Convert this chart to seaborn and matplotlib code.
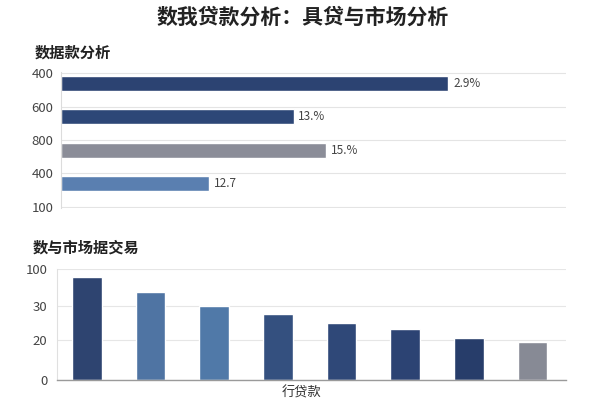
import matplotlib
matplotlib.use("Agg")
import matplotlib.pyplot as plt
import pandas as pd
import seaborn as sns

# ---------------- data ----------------
main_title = "数我贷款分析：具贷与市场分析"

top_title = "数据款分析"
top_cats = ["贷款一", "贷款二", "贷款三", "贷款四"]
top_values = [76.7, 46.1, 52.5, 29.4]
top_labels = ["2.9%", "13.%", "15.%", "12.7"]
top_ticklabels = ["400", "600", "800", "400", "100"]
top_colors = ["#2c4372", "#2d4777", "#8b8d98", "#5a7fb0"]

bottom_title = "数与市场据交易"
bottom_cats = ["类1", "类2", "类3", "类4", "类5", "类6", "类7", "类8"]
bottom_values = [92.8, 79.8, 66.9, 59.5, 51.9, 45.9, 38.1, 34.8]
bottom_ticks = [0, 36, 67, 100]
bottom_ticklabels = ["0", "20", "30", "100"]
bottom_xlabel = "行贷款"
bottom_colors = ["#2e4470", "#4f74a3", "#5079a8", "#34507f",
                 "#2f4878", "#2c4373", "#273d6a", "#878a95"]

# ---------------- style ----------------
sns.set_theme(style="whitegrid")
plt.rcParams["font.family"] = ["Noto Sans CJK SC", "DejaVu Sans"]

fig = plt.figure(figsize=(6, 4), dpi=100, facecolor="white")

# ---------------- top chart ----------------
ax1 = fig.add_axes([60.5 / 600, 1 - 208 / 400, (566 - 60.5) / 600, (208 - 72) / 400])
df1 = pd.DataFrame({"cat": top_cats, "value": top_values})
sns.barplot(data=df1, x="value", y="cat", hue="cat",
            palette=dict(zip(top_cats, top_colors)), orient="h",
            width=0.45, saturation=1, legend=False, ax=ax1)
ax1.set_xlim(0, 100)
ax1.set_ylim(3.73, -0.33)
ax1.set_yticks([i - 0.3 for i in range(len(top_ticklabels))])
ax1.set_yticklabels(top_ticklabels)
ax1.set_xticks([])
ax1.set_xlabel("")
ax1.set_ylabel("")
ax1.grid(axis="x", visible=False)
ax1.grid(axis="y", color="#e4e4e4", linewidth=0.8)
ax1.tick_params(axis="y", length=0, pad=5, labelsize=9.5, labelcolor="#444444")
for side in ["top", "right", "bottom"]:
    ax1.spines[side].set_visible(False)
ax1.spines["left"].set_color("#dcdcdc")
ax1.spines["left"].set_linewidth(0.8)
for cont, lab in zip(ax1.containers, top_labels):
    ax1.bar_label(cont, labels=[lab], padding=3.5, fontsize=8.5, color="#444444")

# ---------------- bottom chart ----------------
ax2 = fig.add_axes([56.6 / 600, 1 - 380.3 / 400, (566 - 56.6) / 600, (380.3 - 269.3) / 400])
df2 = pd.DataFrame({"cat": bottom_cats, "value": bottom_values})
sns.barplot(data=df2, x="cat", y="value", hue="cat",
            palette=dict(zip(bottom_cats, bottom_colors)),
            width=0.463, saturation=1, legend=False, ax=ax2)
ax2.set_xlim(-0.476, 7.526)
ax2.set_ylim(0, 100)
ax2.set_yticks(bottom_ticks)
ax2.set_yticklabels(bottom_ticklabels)
ax2.set_xticks([])
ax2.set_ylabel("")
ax2.set_xlabel(bottom_xlabel, fontsize=9.5, color="#333333", va="center")
ax2.xaxis.set_label_coords((302 - 56.6) / (566 - 56.6), (380.3 - 392.5) / 111)
ax2.grid(axis="x", visible=False)
ax2.grid(axis="y", color="#e6e6e6", linewidth=0.8)
ax2.tick_params(axis="y", length=0, pad=6.5, labelsize=9.5, labelcolor="#444444")
for side in ["top", "right"]:
    ax2.spines[side].set_visible(False)
ax2.spines["left"].set_color("#e0e0e0")
ax2.spines["left"].set_linewidth(0.8)
ax2.spines["bottom"].set_color("#9a9a9a")
ax2.spines["bottom"].set_linewidth(1.0)

# ---------------- titles ----------------
fig.text(303 / 600, 1 - 17.5 / 400, main_title, ha="center", va="center",
         fontsize=15, fontweight="bold", color="#222222")
fig.text(35 / 600, 1 - 53 / 400, top_title, ha="left", va="center",
         fontsize=11, fontweight="bold", color="#222222")
fig.text(32.5 / 600, 1 - 248 / 400, bottom_title, ha="left", va="center",
         fontsize=11, fontweight="bold", color="#222222")

fig.savefig("out.png", dpi=100, facecolor="white")
